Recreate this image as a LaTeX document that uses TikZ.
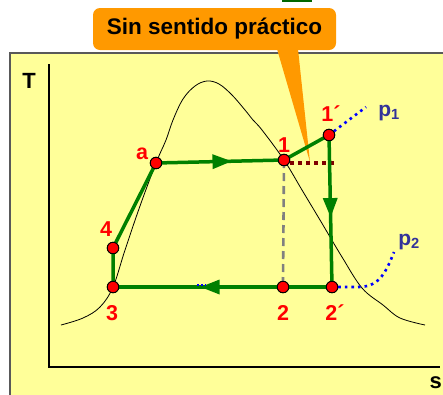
\documentclass[tikz,border=0pt]{standalone}
\usepackage{fontspec}
\setmainfont{Liberation Sans}
\usetikzlibrary{arrows.meta,decorations.markings}
\definecolor{bgyellow}{HTML}{FFFF99}
\definecolor{calloutorange}{HTML}{FF9900}
\definecolor{cyclegreen}{HTML}{008000}
\definecolor{ptred}{HTML}{FF0000}
\definecolor{pblue}{HTML}{333399}
\definecolor{dotblue}{HTML}{0000FF}
\definecolor{darkbrown}{HTML}{800000}
\begin{document}
\begin{tikzpicture}[x=1pt,y=-1pt,
  cyc/.style={draw=cyclegreen,line width=3.5pt},
  pt/.style={circle,fill=ptred,draw=black,line width=0.9pt,inner sep=0pt,minimum size=11.5pt},
  lbl/.style={text=ptred,font=\fontsize{21.5}{21.5}\selectfont\bfseries,inner sep=0pt},
  axlbl/.style={font=\fontsize{22}{22}\selectfont\bfseries,inner sep=0pt},
  plbl/.style={text=pblue,font=\fontsize{21}{21}\selectfont\bfseries,inner sep=0pt},
  isobar/.style={draw=dotblue,line width=2.6pt,dash pattern=on 2.6pt off 4pt},
  midarrow/.style={postaction={decorate},decoration={markings,
     mark=at position #1 with {\fill[cyclegreen] (0,0) -- (-19,7.5) -- (-19,-7.5) -- cycle;}}}
]
\useasboundingbox (0,0) rectangle (443,394);
% top sliver
\fill[cyclegreen!80!black] (282,0) rectangle (312,2);
% frame
\draw[fill=bgyellow,draw=black!65,line width=1.6pt] (10,53) rectangle (452,402);
% axes
\coordinate (yaxtop) at (49,64);
\coordinate (origin) at (49,367);
\coordinate (xaxend) at (440,367);
\draw[line width=1.6pt] (yaxtop) -- (origin) -- (xaxend);
\node[axlbl] (T) at (29,81) {T};
\node[axlbl,anchor=north east] (s) at (442,376) {s};
% callout
\node[fill=calloutorange,rounded corners=7pt,minimum width=243pt,minimum height=42pt,inner sep=0pt,
  font=\fontsize{22.5}{22.5}\selectfont\bfseries] (call) at (214.5,29) {Sin sentido práctico};
\coordinate (calltip) at (310,162);
\fill[calloutorange] (277,49) -- (298,49) -- (calltip) -- cycle;
% dome
\draw[line width=0.8pt] plot[smooth,tension=0.6] coordinates {(61,325) (83,318) (100,307) (113,287) (125,250) (140,206) (156,163) (166,140) (173,120) (183,99) (195,86) (207,81) (219,84) (232,95) (245,110) (253,120) (262,130) (284,160) (302,190) (320,220) (342,257) (362,288) (383,305) (400,318) (425,325)};
% points
\node[pt] (a) at (156,163) {};
\node[pt] (p1) at (284,160) {};
\node[pt] (p1p) at (329,135) {};
\node[pt] (p4) at (113,248) {};
\node[pt] (p3) at (113,287) {};
\node[pt] (p2) at (283,287) {};
\node[pt] (p2p) at (332,287) {};
% gray dashed
\draw[draw=black!50,line width=2.6pt,dash pattern=on 8pt off 5pt] (p1.center) -- (p2.north);
% brown dotted
\coordinate (brend) at (335,163);
\draw[draw=darkbrown,line width=3.5pt,dash pattern=on 4pt off 4pt] (p1.east) ++(0,3) -- (brend);
% cycle
\draw[cyc] (p3.center) -- (p4.center) -- (a.center);
\draw[cyc,midarrow=0.59] (a.center) -- (p1.center);
\draw[cyc] (p1.center) -- (p1p.center);
\draw[cyc,midarrow=0.54] (p1p.center) -- (p2p.center);
\draw[cyc,midarrow=0.6] (p2p.center) -- (p3.center);
% isobars
\coordinate (p1end) at (366,107);
\coordinate (isoL) at (197,285);
\coordinate (p2end) at (394,252);
\draw[isobar] (p1p) -- (p1end);
\draw[draw=dotblue,line width=1.8pt,dash pattern=on 2pt off 2pt] (isoL) -- (206,285);
\draw[isobar] (p2p.east) -- (358,287) .. controls (378,287) and (385,275) .. (p2end);
% redraw points on top
\foreach \x/\y in {156/163,284/160,329/135,113/248,113/287,283/287,332/287}
  \node[pt] at (\x,\y) {};
% labels
\node[lbl] (la) at (142,154) {a};
\node[lbl] (l1) at (284,145) {1};
\node[lbl] (l1p) at (331,114) {1´};
\node[lbl] (l4) at (106,229) {4};
\node[lbl] (l3) at (112,313) {3};
\node[lbl] (l2) at (283,313) {2};
\node[lbl] (l2p) at (335,313) {2´};
\node[plbl] (lp1) at (389,113) {p$_{\mathbf 1}$};
\node[plbl] (lp2) at (409,242) {p$_{\mathbf 2}$};
\end{tikzpicture}
\end{document}
